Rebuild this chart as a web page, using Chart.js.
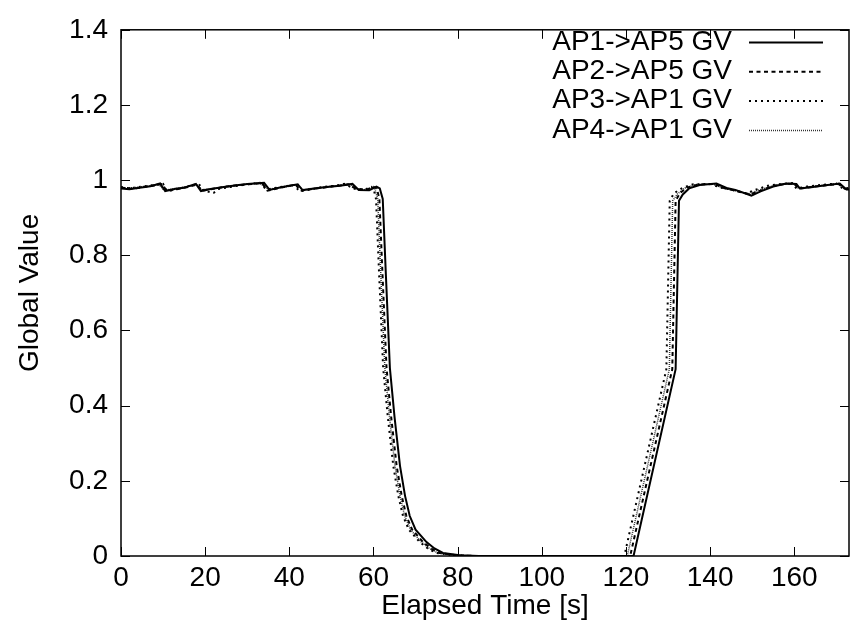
<!DOCTYPE html>
<html lang="en">
<head>
  <meta charset="UTF-8">
  <title>Global Value vs Elapsed Time</title>
  <script src="https://cdn.jsdelivr.net/npm/chart.js"></script>
  <style>
    html, body { margin: 0; padding: 0; background: #fff; }
    #wrap { width: 851px; height: 632px; }
  </style>
</head>
<body>
  <div id="wrap"><canvas id="gvChart" width="851" height="632"></canvas></div>

  <script>
    // [elapsed time (s), global value]
    const ap1to5 = [[0,0.978],[2,0.976],[4,0.979],[7,0.984],[9.3,0.991],[10.5,0.971],[13,0.977],[15,0.98],[17.8,0.99],[19,0.971],[21,0.976],[24,0.981],[27,0.986],[30,0.99],[34,0.993],[35.3,0.974],[38,0.981],[42,0.989],[43.2,0.973],[46,0.978],[49,0.982],[52,0.985],[55,0.99],[56.5,0.974],[59,0.973],[60.7,0.983],[61.5,0.978],[62.2,0.95],[62.9,0.76],[63.9,0.5],[65,0.37],[66.3,0.24],[67.5,0.16],[68.6,0.107],[70,0.07],[72.6,0.037],[74.5,0.02],[76.5,0.008],[80.5,0.002],[85,0],[121.8,0],[131.8,0.497],[132.6,0.945],[133.5,0.962],[135,0.978],[137.5,0.987],[141.5,0.991],[143.9,0.979],[146,0.974],[149.8,0.959],[152,0.97],[155,0.983],[158.1,0.991],[160.5,0.99],[161.3,0.978],[164,0.981],[167,0.986],[170.8,0.991],[172.4,0.975],[174,0.976]];
    const ap2to5 = [[0,0.98],[3,0.977],[5,0.981],[8,0.986],[9.8,0.99],[10.8,0.972],[13,0.975],[16,0.982],[18,0.988],[19.3,0.972],[22,0.977],[25,0.983],[29,0.988],[33.5,0.992],[34.8,0.972],[38,0.98],[41.5,0.988],[42.7,0.972],[45,0.976],[48,0.98],[50,0.983],[54,0.989],[56,0.976],[58.5,0.975],[60,0.982],[60.8,0.978],[61.4,0.95],[62.1,0.76],[63.1,0.5],[64.2,0.37],[65.5,0.24],[66.7,0.16],[67.8,0.107],[69.2,0.07],[71.8,0.037],[73.7,0.02],[75.7,0.008],[79.7,0.002],[84,0],[121,0],[131,0.497],[131.8,0.945],[132.8,0.965],[134.5,0.98],[137,0.988],[141,0.99],[143.5,0.978],[146,0.972],[149.5,0.962],[152,0.972],[155,0.985],[158,0.99],[160,0.991],[161,0.977],[164,0.982],[168,0.987],[170.5,0.99],[172,0.977],[174,0.978]];
    const ap3to1 = [[0,0.982],[2,0.978],[5,0.983],[8,0.987],[10,0.99],[11,0.97],[14,0.978],[17,0.987],[18.5,0.99],[19.5,0.973],[22,0.966],[23,0.976],[26,0.982],[30,0.989],[33,0.993],[34.5,0.975],[37,0.98],[41,0.987],[42.5,0.97],[45,0.975],[48,0.982],[51,0.985],[53,0.99],[55.5,0.977],[58,0.975],[59.5,0.982],[60,0.978],[60.6,0.95],[61.3,0.76],[62.3,0.5],[63.4,0.37],[64.7,0.24],[65.9,0.16],[67,0.107],[68.4,0.07],[71,0.037],[72.9,0.02],[74.9,0.008],[78.9,0.002],[83,0],[119.6,0],[129.6,0.497],[130.4,0.945],[131.4,0.965],[133.5,0.98],[136,0.989],[140,0.99],[142.5,0.98],[145,0.975],[148.5,0.965],[151,0.975],[154,0.986],[157,0.99],[159.5,0.992],[160.5,0.978],[163,0.983],[167,0.988],[170,0.991],[171.5,0.978],[174,0.98]];
    const ap4to1 = [[0,0.979],[3,0.98],[6,0.984],[9,0.989],[10.2,0.973],[13,0.978],[16,0.983],[18,0.989],[19,0.974],[21,0.977],[25,0.982],[28,0.987],[33,0.992],[35,0.976],[38,0.98],[42,0.988],[43,0.975],[46,0.979],[49,0.983],[52,0.986],[54.5,0.989],[56,0.977],[58.5,0.974],[60,0.981],[60.3,0.978],[61,0.95],[61.7,0.76],[62.7,0.5],[63.8,0.37],[65.1,0.24],[66.3,0.16],[67.4,0.107],[68.8,0.07],[71.4,0.037],[73.3,0.02],[75.3,0.008],[79.3,0.002],[83.5,0],[120.3,0],[130.3,0.497],[131.1,0.945],[132.2,0.963],[134,0.979],[136.5,0.988],[140.5,0.99],[143,0.979],[145.5,0.973],[149,0.963],[151.5,0.973],[154.5,0.984],[157.5,0.99],[160,0.99],[161,0.978],[163.5,0.982],[167.5,0.987],[170.5,0.99],[172,0.977],[174,0.977]];

    const seriesLabels = ['AP1->AP5 GV', 'AP2->AP5 GV', 'AP3->AP1 GV', 'AP4->AP1 GV'];
    const xTicks = [0, 20, 40, 60, 80, 100, 120, 140, 160];
    const yTicks = [0, 0.2, 0.4, 0.6, 0.8, 1, 1.2, 1.4];

    const FONT = 'Liberation Sans, Arial, Helvetica, sans-serif';
    const FONT_SIZE = 28;
    const toPoints = arr => arr.map(p => ({ x: p[0], y: p[1] }));

    // frame with inward ticks on all four sides, gnuplot style
    const framePlugin = {
      id: 'frame',
      afterDatasetsDraw(chart) {
        const { ctx, chartArea: a, scales } = chart;
        ctx.save();
        ctx.strokeStyle = '#000';
        ctx.lineWidth = 1.5;
        ctx.strokeRect(a.left, a.top, a.right - a.left, a.bottom - a.top);
        ctx.lineWidth = 1;
        ctx.beginPath();
        xTicks.forEach(v => {
          const px = Math.round(scales.x.getPixelForValue(v)) + 0.5;
          ctx.moveTo(px, a.bottom); ctx.lineTo(px, a.bottom - 9);
          ctx.moveTo(px, a.top); ctx.lineTo(px, a.top + 9);
        });
        yTicks.forEach(v => {
          const py = Math.round(scales.y.getPixelForValue(v)) + 0.5;
          ctx.moveTo(a.left, py); ctx.lineTo(a.left + 9, py);
          ctx.moveTo(a.right, py); ctx.lineTo(a.right - 9, py);
        });
        ctx.stroke();
        ctx.restore();
      }
    };

    // key in the top right corner: text right-aligned, line sample after it
    const keyPlugin = {
      id: 'key',
      afterDraw(chart) {
        const { ctx } = chart;
        ctx.save();
        ctx.font = FONT_SIZE + 'px ' + FONT;
        ctx.fillStyle = '#000';
        ctx.textAlign = 'right';
        ctx.textBaseline = 'middle';
        chart.data.datasets.forEach((ds, i) => {
          const y = 42 + i * 29.3;
          ctx.fillText(ds.label, 732, y);
          ctx.beginPath();
          ctx.strokeStyle = ds.borderColor;
          ctx.lineWidth = ds.borderWidth;
          ctx.setLineDash(ds.borderDash || []);
          ctx.moveTo(749, y + 0.5);
          ctx.lineTo(823, y + 0.5);
          ctx.stroke();
        });
        ctx.restore();
      }
    };

    const ctx = document.getElementById('gvChart').getContext('2d');
    new Chart(ctx, {
      type: 'line',
      data: {
        datasets: [
          { label: seriesLabels[0], data: toPoints(ap1to5), borderColor: '#000', borderWidth: 2, borderDash: [] },
          { label: seriesLabels[1], data: toPoints(ap2to5), borderColor: '#000', borderWidth: 2, borderDash: [4, 3.5] },
          { label: seriesLabels[2], data: toPoints(ap3to1), borderColor: '#000', borderWidth: 2, borderDash: [2, 4] },
          { label: seriesLabels[3], data: toPoints(ap4to1), borderColor: '#333', borderWidth: 1.5, borderDash: [1, 1] }
        ]
      },
      options: {
        responsive: false,
        animation: false,
        parsing: false,
        layout: { padding: { top: 18, right: 2, left: 0, bottom: 0 } },
        elements: { point: { radius: 0 }, line: { tension: 0, fill: false } },
        plugins: { legend: { display: false }, tooltip: { enabled: false } },
        scales: {
          x: {
            type: 'linear',
            min: 0,
            max: 173,
            afterBuildTicks: s => { s.ticks = xTicks.map(v => ({ value: v })); },
            afterFit: s => { s.height = 76; },
            grid: { display: false, drawTicks: false },
            border: { display: false },
            ticks: { color: '#000', font: { family: FONT, size: FONT_SIZE }, padding: 5, maxRotation: 0 },
            title: { display: true, text: 'Elapsed Time [s]', color: '#000', font: { family: FONT, size: FONT_SIZE }, padding: { top: 0, bottom: 9 } }
          },
          y: {
            min: 0,
            max: 1.4,
            afterBuildTicks: s => { s.ticks = yTicks.map(v => ({ value: v })); },
            afterFit: s => { s.width = 121; },
            grid: { display: false, drawTicks: false },
            border: { display: false },
            ticks: {
              color: '#000',
              font: { family: FONT, size: FONT_SIZE },
              padding: 13,
              callback: v => String(Number(v.toFixed(1)))
            },
            title: { display: true, text: 'Global Value', color: '#000', font: { family: FONT, size: FONT_SIZE }, padding: { top: 13, bottom: 0 } }
          }
        }
      },
      plugins: [framePlugin, keyPlugin]
    });
  </script>
</body>
</html>
